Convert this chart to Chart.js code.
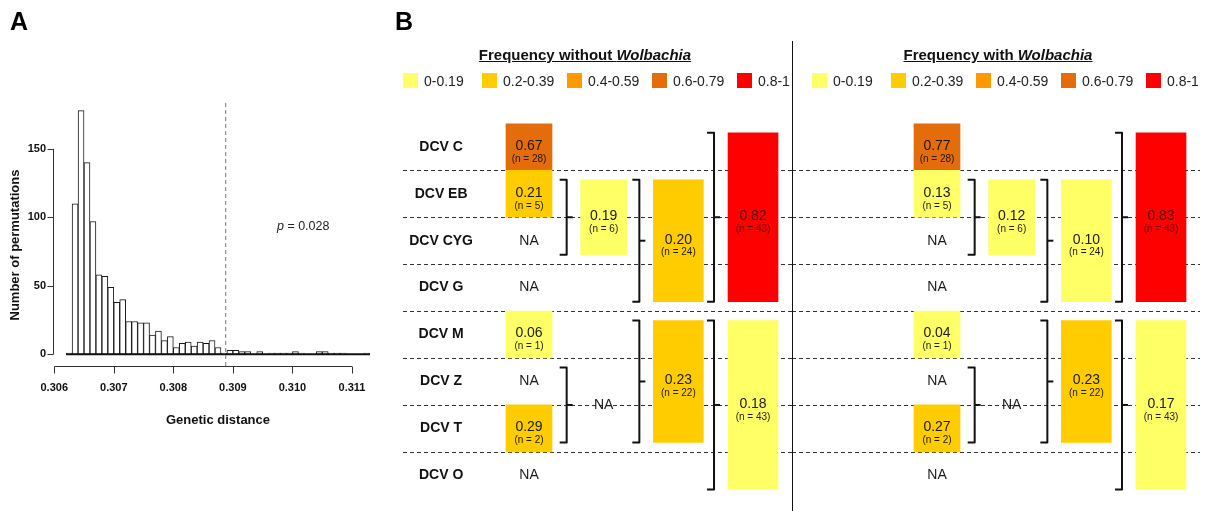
<!DOCTYPE html>
<html>
<head>
<meta charset="utf-8">
<script src="https://cdn.jsdelivr.net/npm/chart.js@4.4.1/dist/chart.umd.min.js"></script>
<style>
  html, body { margin: 0; padding: 0; background: #fff; }
  #page { position: relative; width: 1207px; height: 511px; overflow: hidden;
          font-family: "Liberation Sans", Arial, Helvetica, sans-serif; color: #111; }
  .pane { position: absolute; top: 0; }
  .title { position: absolute; top: 46px; width: 300px; text-align: center; font-size: 15px;
           line-height: 18px; font-weight: bold; text-decoration: underline; white-space: nowrap; }
  .sw { position: absolute; top: 73px; width: 15px; height: 15px; }
  .lg { position: absolute; top: 73px; font-size: 14px; line-height: 16px; white-space: nowrap; color: #222; }
  #divider { position: absolute; left: 792px; top: 41px; width: 1px; height: 470px; background: #111; }
</style>
</head>
<body>
<div id="page">
  <div class="pane" style="left:0px"><canvas id="histA" width="400" height="511"></canvas></div>
  <div class="pane" style="left:392px"><canvas id="freqWithout" width="400" height="511"></canvas></div>
  <div class="pane" style="left:792px"><canvas id="freqWith" width="415" height="511"></canvas></div>
  <div id="divider"></div>
  <div class="title" style="left:435px">Frequency without <i>Wolbachia</i></div>
  <div class="title" style="left:848px">Frequency with <i>Wolbachia</i></div>
</div>
<script>
// ---------- Panel A: permutation histogram ----------
const binStart = 0.3062;
const binWidth = 0.0001;
const binCounts = [1, 110, 178, 140, 97, 58, 57, 49, 38, 40,
                   24, 24, 23, 23, 14, 17, 10, 13, 5, 8,
                   9, 6, 9, 8, 10, 5, 1, 3, 3, 2,
                   2, 0, 2, 0, 1, 1, 1, 1, 2, 1,
                   0, 0, 2, 2, 1, 1, 1, 0, 0, 0, 1];
const observedDistance = 0.30888;
const pValueText = '0.028';
const xTickValues = [0.306, 0.307, 0.308, 0.309, 0.310, 0.311];
const yTickValues = [0, 50, 100, 150];

// ---------- Panel B: infection frequencies per DCV variant ----------
const rowLabels = ['DCV C', 'DCV EB', 'DCV CYG', 'DCV G', 'DCV M', 'DCV Z', 'DCV T', 'DCV O'];
const pairGroups = [[1, 2], [5, 6]];
const tripleGroups = [[1, 3], [4, 6]];
const cladeGroups = [[0, 3], [4, 7]];

const singleFreqWithout = [0.67, 0.21, null, null, 0.06, null, 0.29, null];
const singleFreqWith    = [0.77, 0.13, null, null, 0.04, null, 0.27, null];
const singleN           = [28, 5, null, null, 1, null, 2, null];
const pairFreqWithout   = [0.19, null];
const pairFreqWith      = [0.12, null];
const pairN             = [6, null];
const tripleFreqWithout = [0.20, 0.23];
const tripleFreqWith    = [0.10, 0.23];
const tripleN           = [24, 22];
const cladeFreqWithout  = [0.82, 0.18];
const cladeFreqWith     = [0.83, 0.17];
const cladeN            = [43, 43];

const classBreaks = [0.2, 0.4, 0.6, 0.8];
const classLabels = ['0-0.19', '0.2-0.39', '0.4-0.59', '0.6-0.79', '0.8-1'];
const classColors = ['#FFFF66', '#FFCC00', '#FF9900', '#E46C0A', '#FF0000'];

const FONT = '"Liberation Sans", Arial, Helvetica, sans-serif';
Chart.defaults.font.family = FONT;

// ---------- Panel A chart ----------
const histAxes = {
  id: 'histAxes',
  afterDraw(chart) {
    const { ctx, chartArea, scales: { x, y } } = chart;
    ctx.save();
    ctx.strokeStyle = '#333';
    ctx.lineWidth = 1;
    // y axis with outward ticks
    const ax = Math.round(chartArea.left) - 0.5;
    ctx.beginPath();
    ctx.moveTo(ax, y.getPixelForValue(yTickValues[0]));
    ctx.lineTo(ax, y.getPixelForValue(yTickValues[yTickValues.length - 1]));
    yTickValues.forEach(v => {
      const py = Math.round(y.getPixelForValue(v)) + 0.5;
      ctx.moveTo(ax - 6, py); ctx.lineTo(ax, py);
    });
    ctx.stroke();
    // x axis with outward ticks
    const ay = Math.round(chartArea.bottom) + 0.5;
    ctx.beginPath();
    ctx.moveTo(x.getPixelForValue(xTickValues[0]), ay);
    ctx.lineTo(x.getPixelForValue(xTickValues[xTickValues.length - 1]), ay);
    xTickValues.forEach(v => {
      const px = Math.round(x.getPixelForValue(v)) + 0.5;
      ctx.moveTo(px, ay); ctx.lineTo(px, ay + 7);
    });
    ctx.stroke();

    // axis titles
    ctx.fillStyle = '#111';
    ctx.font = 'bold 13px ' + FONT;
    ctx.textAlign = 'center';
    ctx.textBaseline = 'middle';
    ctx.fillText('Genetic distance', (chartArea.left + chartArea.right) / 2, 420);
    ctx.save();
    ctx.translate(15, 245);
    ctx.rotate(-Math.PI / 2);
    ctx.fillText('Number of permutations', 0, 0);
    ctx.restore();

    // p-value note
    const tx = x.getPixelForValue(0.30974), ty = y.getPixelForValue(93);
    ctx.textAlign = 'left';
    ctx.font = 'italic 12.5px ' + FONT;
    ctx.fillStyle = '#222';
    ctx.fillText('p', tx, ty);
    const pw = ctx.measureText('p').width;
    ctx.font = '12.5px ' + FONT;
    ctx.fillText(' = ' + pValueText, tx + pw, ty);

    // panel letter
    ctx.font = 'bold 25px ' + FONT;
    ctx.fillStyle = '#000';
    ctx.textBaseline = 'alphabetic';
    ctx.fillText('A', 10, 30);
    ctx.restore();
  }
};

const yRangeA = [-8.5, 185];
new Chart(document.getElementById('histA'), {
  type: 'bar',
  data: {
    datasets: [
      {
        type: 'bar',
        data: binCounts.map((c, i) => ({ x: binStart + binWidth * (i + 0.5), y: c })),
        backgroundColor: '#fff',
        borderColor: '#1a1a1a',
        borderWidth: 1,
        borderSkipped: false,
        barPercentage: 1,
        categoryPercentage: 1,
        order: 3
      },
      {
        type: 'line',
        data: [{ x: binStart, y: 0 }, { x: binStart + binWidth * binCounts.length, y: 0 }],
        borderColor: '#111',
        borderWidth: 2,
        pointRadius: 0,
        fill: false,
        order: 2
      },
      {
        type: 'line',
        data: [{ x: observedDistance, y: yRangeA[0] }, { x: observedDistance, y: yRangeA[1] }],
        borderColor: '#777',
        borderWidth: 1,
        borderDash: [4, 3],
        pointRadius: 0,
        fill: false,
        order: 1
      }
    ]
  },
  options: {
    responsive: false,
    animation: false,
    devicePixelRatio: 1,
    layout: { padding: { top: 101, right: 18, left: 0, bottom: 0 } },
    plugins: { legend: { display: false }, tooltip: { enabled: false } },
    scales: {
      x: {
        type: 'linear', min: 0.305996, max: 0.311504, offset: false,
        grid: { display: false, drawTicks: false, tickLength: 0, offset: false },
        border: { display: false },
        afterBuildTicks: s => { s.ticks = xTickValues.map(v => ({ value: v })); },
        afterFit: s => { s.height = 145; },
        ticks: { padding: 15, autoSkip: false, maxRotation: 0, color: '#111',
                 font: { size: 11, weight: 'bold' }, callback: v => Number(v).toFixed(3) }
      },
      y: {
        type: 'linear', min: yRangeA[0], max: yRangeA[1],
        grid: { display: false, drawTicks: false, tickLength: 0 },
        border: { display: false },
        afterBuildTicks: s => { s.ticks = yTickValues.map(v => ({ value: v })); },
        afterFit: s => { s.width = 54; },
        ticks: { padding: 8, autoSkip: false, color: '#111',
                 font: { size: 11, weight: 'bold' }, callback: v => String(v) }
      }
    }
  },
  plugins: [histAxes]
});

// ---------- Panel B charts ----------
function freqColor(f) {
  let k = 0;
  while (k < classBreaks.length && f >= classBreaks[k] - 1e-9) k++;
  return classColors[k];
}

const singleGroups = rowLabels.map((_, i) => [i, i]);
const levelWidths = [46, 46, 50, 50];
const groupInset = 0.2;

function buildLevels(single, pair, triple, clade) {
  return [
    { groups: singleGroups, freq: single, n: singleN },
    { groups: pairGroups,   freq: pair,   n: pairN },
    { groups: tripleGroups, freq: triple, n: tripleN },
    { groups: cladeGroups,  freq: clade,  n: cladeN }
  ];
}

function spanOf(g) {
  const inset = g[1] > g[0] ? groupInset : 0;
  return [g[0] + inset, g[1] + 1 - inset];
}

function makeDatasets(levels) {
  return levels.map((lv, L) => {
    const kept = lv.groups.map((g, k) => k).filter(k => lv.freq[k] != null);
    return {
      data: kept.map(k => ({ x: L, y: spanOf(lv.groups[k]) })),
      backgroundColor: kept.map(k => freqColor(lv.freq[k])),
      valueText: kept.map(k => lv.freq[k].toFixed(2)),
      nText: kept.map(k => '(n = ' + lv.n[k] + ')'),
      isRed: kept.map(k => lv.freq[k] >= classBreaks[3]),
      borderWidth: 0,
      barThickness: levelWidths[L],
      grouped: false
    };
  });
}

function panelPlugin(levels, lineFrom, lineTo, letter) {
  return {
    id: 'panelMarks',
    beforeDatasetsDraw(chart) {
      const { ctx, scales: { y } } = chart;
      ctx.save();
      ctx.strokeStyle = '#333';
      ctx.lineWidth = 1;
      ctx.setLineDash([4, 3]);
      for (let r = 1; r < rowLabels.length; r++) {
        const py = Math.round(y.getPixelForValue(r)) + 0.5;
        ctx.beginPath();
        ctx.moveTo(lineFrom, py);
        ctx.lineTo(lineTo, py);
        ctx.stroke();
      }
      ctx.restore();
    },
    afterDatasetsDraw(chart) {
      const { ctx, scales: { x, y } } = chart;
      ctx.save();
      ctx.textAlign = 'center';
      ctx.textBaseline = 'middle';
      // values inside boxes
      chart.data.datasets.forEach((ds, di) => {
        const meta = chart.getDatasetMeta(di);
        meta.data.forEach((el, j) => {
          const cx = el.x;
          const cy = (el.y + el.base) / 2;
          ctx.fillStyle = ds.isRed[j] ? '#5a0808' : '#1a1a1a';
          ctx.font = '14px ' + FONT;
          ctx.fillText(ds.valueText[j], cx, cy - 1);
          ctx.font = '10px ' + FONT;
          ctx.fillText(ds.nText[j], cx, cy + 12);
        });
      });
      // NA where no frequency is available
      ctx.fillStyle = '#1a1a1a';
      ctx.font = '14px ' + FONT;
      levels.forEach((lv, L) => {
        lv.groups.forEach((g, k) => {
          if (lv.freq[k] == null) {
            const s = spanOf(g);
            ctx.fillText('NA', x.getPixelForValue(L), y.getPixelForValue((s[0] + s[1]) / 2));
          }
        });
      });
      // brackets joining the rows pooled at each level
      ctx.strokeStyle = '#111';
      ctx.lineWidth = 2;
      ctx.lineJoin = 'round';
      ctx.lineCap = 'butt';
      levels.forEach((lv, L) => {
        if (L === 0) return;
        lv.groups.forEach(g => {
          const s = spanOf(g);
          const xr = x.getPixelForValue(L) - levelWidths[L] / 2 - 14;
          const y0 = y.getPixelForValue(s[0]);
          const y1 = y.getPixelForValue(s[1]);
          ctx.beginPath();
          ctx.moveTo(xr - 7, y0);
          ctx.lineTo(xr, y0);
          ctx.lineTo(xr, y1);
          ctx.lineTo(xr - 7, y1);
          ctx.stroke();
          ctx.beginPath();
          ctx.moveTo(xr, (y0 + y1) / 2);
          ctx.lineTo(xr + 6, (y0 + y1) / 2);
          ctx.stroke();
        });
      });
      if (letter) {
        ctx.fillStyle = '#000';
        ctx.font = 'bold 25px ' + FONT;
        ctx.textAlign = 'left';
        ctx.textBaseline = 'alphabetic';
        ctx.fillText(letter, 3, 30);
      }
      ctx.restore();
    }
  };
}

function makePanel(canvasId, levels, opts) {
  return new Chart(document.getElementById(canvasId), {
    type: 'bar',
    data: { datasets: makeDatasets(levels) },
    options: {
      responsive: false,
      animation: false,
      devicePixelRatio: 1,
      layout: { padding: { top: 123.4, bottom: 12.2, left: 0, right: 0 } },
      plugins: { legend: { display: false }, tooltip: { enabled: false } },
      scales: {
        x: { type: 'linear', display: false, offset: false, min: opts.xMin, max: opts.xMax,
             grid: { offset: false } },
        y: {
          type: 'linear', reverse: true, min: 0, max: rowLabels.length,
          display: opts.showRows,
          grid: { display: false, drawTicks: false, tickLength: 0 },
          border: { display: false },
          afterBuildTicks: s => { s.ticks = rowLabels.map((_, i) => ({ value: i + 0.5 })); },
          afterFit: s => {
            s.width = opts.showRows ? 88 : 0;
            s.paddingTop = 0;
            s.paddingBottom = 0;
          },
          ticks: { autoSkip: false, padding: 7, crossAlign: 'center', color: '#111',
                   font: { size: 14, weight: 'bold' }, callback: (v, i) => rowLabels[i] }
        }
      }
    },
    plugins: [panelPlugin(levels, opts.lineFrom, opts.lineTo, opts.letter)]
  });
}

makePanel('freqWithout',
  buildLevels(singleFreqWithout, pairFreqWithout, tripleFreqWithout, cladeFreqWithout),
  { xMin: -0.6562, xMax: 3.522, showRows: true, lineFrom: 11, lineTo: 400, letter: 'B' });

makePanel('freqWith',
  buildLevels(singleFreqWith, pairFreqWith, tripleFreqWith, cladeFreqWith),
  { xMin: -1.9419, xMax: 3.6159, showRows: false, lineFrom: 0, lineTo: 408, letter: null });

// colour-class legends above each panel
const legendSlots = [0, 79, 164, 249, 334];
function buildLegend(left) {
  const page = document.getElementById('page');
  classLabels.forEach((lab, i) => {
    const sw = document.createElement('div');
    sw.className = 'sw';
    sw.style.left = (left + legendSlots[i]) + 'px';
    sw.style.background = classColors[i];
    page.appendChild(sw);
    const tx = document.createElement('div');
    tx.className = 'lg';
    tx.style.left = (left + legendSlots[i] + 21) + 'px';
    tx.textContent = lab;
    page.appendChild(tx);
  });
}
buildLegend(403);
buildLegend(812);
</script>
</body>
</html>
